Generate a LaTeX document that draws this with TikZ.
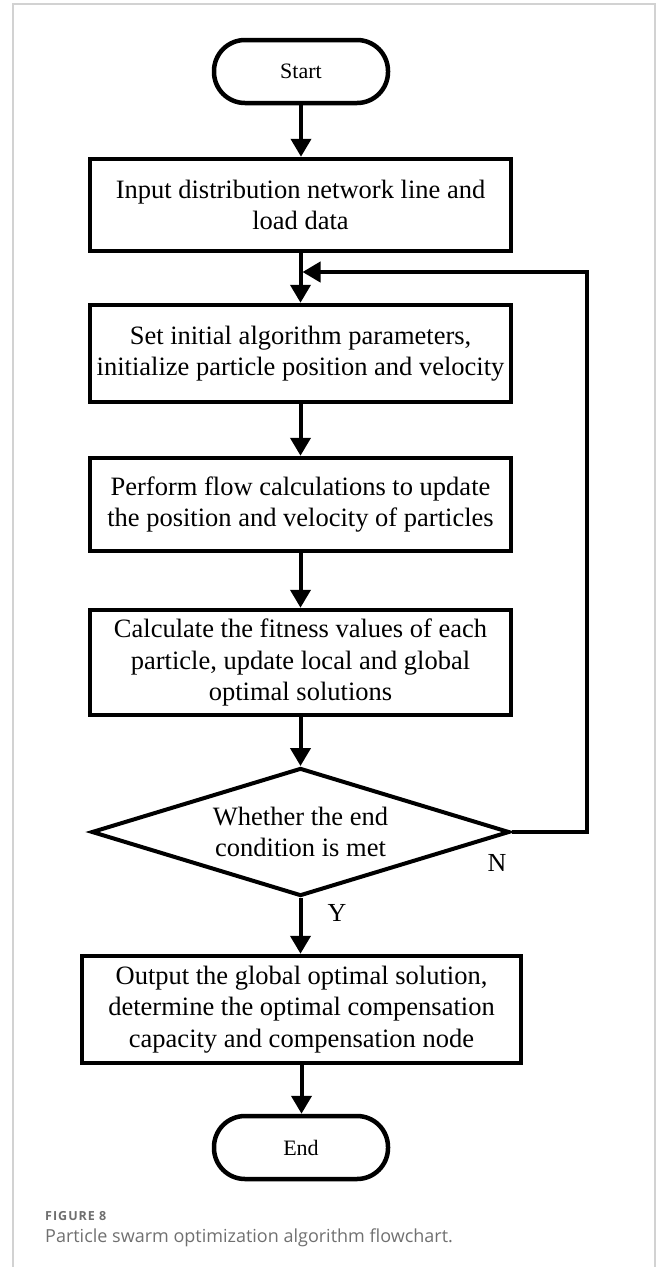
\documentclass[tikz,border=0pt]{standalone}
\usepackage{fontspec}
\setmainfont{Liberation Serif}
\newfontfamily\capfont{Open Sans}
\newfontfamily\figfont[LetterSpace=8]{Open Sans}
\usetikzlibrary{arrows.meta,shapes.geometric}
\definecolor{framegray}{HTML}{D2D2D2}
\definecolor{figgray}{HTML}{6E6E6E}
\definecolor{capgray}{HTML}{707070}
\tikzset{
  boxtext/.style={font=\fontsize{26.5}{31.5}\selectfont, align=center},
  procbox/.style={draw, line width=4.5pt, rectangle, inner sep=0pt, boxtext},
  termbox/.style={draw, line width=4.5pt, rectangle, rounded corners=31pt, inner sep=0pt,
    minimum width=174pt, minimum height=63pt, font=\fontsize{22}{26}\selectfont},
  decbox/.style={draw, line width=4pt, diamond, aspect=3.27, inner sep=0pt, boxtext,
    minimum width=418pt, minimum height=128pt},
  flow/.style={line width=4pt, -{Triangle[length=18pt,width=20pt]}},
  yn/.style={font=\fontsize{26}{30}\selectfont, inner sep=0pt}
}
\begin{document}
\begin{tikzpicture}[x=1pt,y=-1pt]
\useasboundingbox (0,0) rectangle (656,1267);
\draw[framegray, line width=1.5pt] (13,1267) -- (13,4) -- (655,4) -- (655,1267);

\node[termbox] (start) at (301,71.5) {Start};
\node[procbox, minimum width=421pt, minimum height=92pt] (b1) at (300.5,205)
  {Input distribution network line and\\load data};
\node[procbox, minimum width=421pt, minimum height=97pt] (b2) at (300.5,353.5)
  {Set initial algorithm parameters,\\initialize particle position and velocity};
\node[procbox, minimum width=421pt, minimum height=93pt] (b3) at (300.5,504.5)
  {Perform flow calculations to update\\the position and velocity of particles};
\node[procbox, minimum width=421pt, minimum height=105pt] (b4) at (300.5,662.5)
  {Calculate the fitness values of each\\particle, update local and global\\optimal solutions};
\node[decbox] (dec) at (300.5,832) {Whether the end\\condition is met};
\node[procbox, minimum width=439pt, minimum height=107pt] (b5) at (301.5,1009.5)
  {Output the global optimal solution,\\determine the optimal compensation\\capacity and compensation node};
\node[termbox] (end) at (301,1147.5) {End};

\node[yn] (nlab) at (497,863) {N};
\node[yn] (ylab) at (337,913) {Y};

\draw[flow] (start.south) -- (start.south |- b1.north);
\draw[flow] (b1.south) -- (b1.south |- b2.north);
\draw[flow] (b2.south) -- (b2.south |- b3.north);
\draw[flow] (b3.south) -- (b3.south |- b4.north);
\draw[flow] (b4.south) -- (b4.south |- dec.north);
\draw[flow] (dec.south) -- (dec.south |- b5.north);
\draw[flow] (b5.south) -- (b5.south |- end.north);

\coordinate (loopR) at (587,832);
\coordinate (loopT) at (587,272);
\draw[flow, line join=miter] (dec.east) -- (loopR) -- (loopT) -- ([xshift=2pt]b1.south |- loopT);

\node[anchor=base west, inner sep=0pt, font=\figfont\bfseries\fontsize{12.5}{15}\selectfont, text=figgray] (fig) at (45,1220) {FIGURE 8};
\node[anchor=base west, inner sep=0pt, font=\capfont\fontsize{18}{21}\selectfont, text=capgray] (cap) at (45,1242) {Particle swarm optimization algorithm flowchart.};
\end{tikzpicture}
\end{document}
